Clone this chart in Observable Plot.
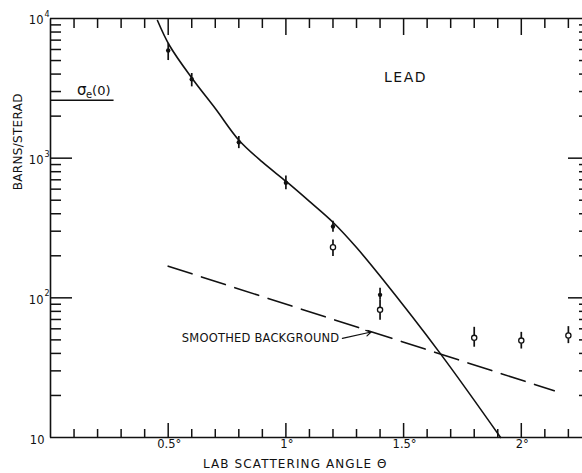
<!DOCTYPE html>
<html><head><meta charset="utf-8">
<script src="https://cdn.jsdelivr.net/npm/d3@7"></script>
<script src="https://cdn.jsdelivr.net/npm/@observablehq/plot@0.6"></script>
<style>
body{margin:0;background:#fff;}
</style></head><body><div id="chart"></div>
<script>
// Measured points (filled = main data, open = second set)
const filledAngle = [0.5, 0.6, 0.8, 1.0, 1.2, 1.4];
const filledValue = [5900, 3670, 1300, 667, 324, 105];
const filledLow   = [5000, 3240, 1170, 595, 295, 96];
const filledHigh  = [6600, 4040, 1430, 745, 354, 117];
const openAngle = [1.2, 1.4, 1.8, 2.0, 2.2];
const openValue = [230, 82, 51.7, 49.4, 53.7];
const openLow   = [198, 69, 44.3, 43, 47];
const openHigh  = [259, 96, 61.5, 56.6, 62.2];
// Solid theoretical curve
const fitAngle = [0.4545, 0.5055, 0.602, 0.701, 0.8016, 0.9006, 1.0013, 1.100, 1.201, 1.300, 1.402, 1.657, 1.912];
const fitValue = [9676, 6409, 3719, 2257, 1338, 936, 681, 490, 346, 229, 142, 39.7, 10];
// Smoothed background (dashed)
const bgAngle = [0.5, 2.14];
const bgValue = [168.6, 21.6];
// Sigma_e(0) level
const sigmaValue = [2600];
const sigmaAngleEnd = [0.27];
// Annotation arrow (angle, value)
const arrowFrom = [1.24, 51.2];
const arrowTo = [1.362, 56.9];
// Ticks
const xMajorTicks = [0.5, 1, 1.5, 2];
const xTickLabels = ["0.5°", "1°", "1.5°", "2°"];
const xMinorTicks = [0.1,0.2,0.3,0.4,0.6,0.7,0.8,0.9,1.1,1.2,1.3,1.4,1.6,1.7,1.8,1.9,2.1,2.2];
const yMajorTicks = [10, 100, 1000, 10000];
const yTickExponents = ["", "2", "3", "4"];
const yMinorTicks = [20,30,40,50,60,70,80,90,200,300,400,500,600,700,800,900,2000,3000,4000,5000,6000,7000,8000,9000];

const W = 582, H = 473, mL = 50, mR = 0, mT = 18, mB = 36;
const iW = W - mL - mR, iH = H - mT - mB;
const xMax = 2.26, yMin = 10, yMax = 10000;
const decadePx = iH / Math.log10(yMax / yMin);
const ink = "#111";
const upFrom = (v, px) => v * Math.pow(10, px / decadePx);
const downFrom = (v, px) => v / Math.pow(10, px / decadePx);
const xPx = px => px * xMax / iW;

const filled = filledAngle.map((a, i) => ({a, v: filledValue[i], lo: filledLow[i], hi: filledHigh[i]}));
const open = openAngle.map((a, i) => ({a, v: openValue[i], lo: openLow[i], hi: openHigh[i]}));
const fit = fitAngle.map((a, i) => ({a, v: fitValue[i]}));
const bg = bgAngle.map((a, i) => ({a, v: bgValue[i]}));
const xLab = xMajorTicks.map((t, i) => ({t, s: xTickLabels[i]}));
const yLabTop = yMajorTicks.slice(1).map((t, i) => ({t, e: yTickExponents[i + 1]}));
const yLabBottom = [{t: yMajorTicks[0]}];
const yInner = [100, 1000];

const vTicks = [
  ...xMinorTicks.map(t => ({x: t, a: yMin, b: upFrom(yMin, 8)})),
  ...xMajorTicks.map(t => ({x: t, a: yMin, b: upFrom(yMin, 14)})),
  ...xMinorTicks.map(t => ({x: t, a: downFrom(yMax, 10), b: yMax})),
  ...xMajorTicks.map(t => ({x: t, a: downFrom(yMax, 17), b: yMax}))
];
const hTicks = [
  ...yMinorTicks.map(t => ({y: t, a: 0, b: xPx(11)})),
  ...yInner.map(t => ({y: t, a: 0, b: xPx(22)})),
  ...yMinorTicks.map(t => ({y: t, a: xMax - xPx(3), b: xMax})),
  ...yInner.map(t => ({y: t, a: xMax - xPx(14), b: xMax}))
];
const frameH = [{y: yMin, a: 0, b: xMax}, {y: yMax, a: 0, b: xMax}];
const frameV = [{x1: 0, y1: yMin, x2: 0, y2: yMax}];
const sigmaSeg = [{y: sigmaValue[0], a: 0, b: sigmaAngleEnd[0]}];
const arrowSeg = [{x1: arrowFrom[0], y1: arrowFrom[1], x2: arrowTo[0], y2: arrowTo[1]}];

const chart = Plot.plot({
  width: W, height: H,
  marginLeft: mL, marginRight: mR, marginTop: mT, marginBottom: mB,
  style: {fontFamily: "DejaVu Sans, sans-serif", background: "#fff"},
  x: {domain: [0, xMax], axis: null},
  y: {type: "log", domain: [yMin, yMax], axis: null},
  marks: [
    // frame (top/bottom) and ticks first
    Plot.ruleY(frameH, {y: "y", x1: "a", x2: "b", stroke: ink, strokeWidth: 1.6}),
    Plot.ruleX(vTicks, {x: "x", y1: "a", y2: "b", stroke: ink, strokeWidth: 1.5}),
    Plot.ruleY(hTicks, {y: "y", x1: "a", x2: "b", stroke: ink, strokeWidth: 1.5}),
    // tick labels
    Plot.text(xLab, {x: "t", text: "s", frameAnchor: "bottom", dy: 10, dx: 1, fontSize: 11.5, fill: ink}),
    Plot.text(yLabTop, {y: "t", text: () => "10", frameAnchor: "left", dx: -7, dy: 2, textAnchor: "end", fontSize: 11.5, fill: ink}),
    Plot.text(yLabTop, {y: "t", text: "e", frameAnchor: "left", dx: -6, dy: -4, textAnchor: "start", fontSize: 8, fill: ink}),
    Plot.text(yLabBottom, {y: "t", text: () => "10", frameAnchor: "left", dx: -6, dy: 3, textAnchor: "end", fontSize: 11.5, fill: ink}),
    // axis titles
    Plot.text(["LAB SCATTERING ANGLE Θ"], {x: 1.04, frameAnchor: "bottom", dy: 30, text: d => d, fontSize: 12, fill: ink}),
    Plot.text(["BARNS/STERAD"], {y: 590, frameAnchor: "left", dx: -32, rotate: -90, text: d => d, fontSize: 12, fill: ink}),
    // sigma_e(0)
    Plot.ruleY(sigmaSeg, {y: "y", x1: "a", x2: "b", stroke: ink, strokeWidth: 1.6}),
    Plot.text(["σ"], {x: 0.113, y: sigmaValue[0], dy: -10, textAnchor: "start", text: d => d, fontSize: 15, fill: ink}),
    Plot.text(["e"], {x: 0.113, y: sigmaValue[0], dx: 9, dy: -5, textAnchor: "start", text: d => d, fontSize: 10, fill: ink}),
    Plot.text(["(0)"], {x: 0.113, y: sigmaValue[0], dx: 15, dy: -9, textAnchor: "start", text: d => d, fontSize: 13, fill: ink}),
    // LEAD
    Plot.text(["LEAD"], {x: 1.508, y: 3785, text: d => d, fontSize: 14, fill: ink}),
    // curves
    Plot.line(fit, {x: "a", y: "v", curve: "catmull-rom", stroke: ink, strokeWidth: 1.6}),
    Plot.line(bg, {x: "a", y: "v", stroke: ink, strokeWidth: 1.6, strokeDasharray: "25,10"}),
    // annotation
    Plot.text(["SMOOTHED BACKGROUND"], {x: arrowFrom[0], y: arrowFrom[1], dx: -3, textAnchor: "end", text: d => d, fontSize: 11.5, fill: ink}),
    Plot.arrow(arrowSeg, {x1: "x1", y1: "y1", x2: "x2", y2: "y2", stroke: ink, strokeWidth: 1.2, headLength: 7}),
    // error bars and points
    Plot.ruleX(filled, {x: "a", y1: "lo", y2: "hi", stroke: ink, strokeWidth: 1.7}),
    Plot.ruleX(open, {x: "a", y1: "lo", y2: "hi", stroke: ink, strokeWidth: 1.7}),
    Plot.dot(filled, {x: "a", y: "v", r: 2.2, fill: ink, stroke: "none"}),
    Plot.dot(open, {x: "a", y: "v", r: 2.6, fill: "#fff", stroke: ink, strokeWidth: 1.3}),
    // left frame line
    Plot.link(frameV, {x1: "x1", y1: "y1", x2: "x2", y2: "y2", stroke: ink, strokeWidth: 1.6})
  ]
});
document.getElementById("chart").appendChild(chart);
d3.select(chart).selectAll("text").each(function() {
  const t = this.textContent;
  if (t === "LAB SCATTERING ANGLE Θ") this.setAttribute("letter-spacing", "1.1");
  else if (t === "LEAD") this.setAttribute("letter-spacing", "1.5");
  else if (t === "BARNS/STERAD") this.setAttribute("letter-spacing", "0.3");
  else if (t === "SMOOTHED BACKGROUND") this.setAttribute("letter-spacing", "0.2");
});
</script></body></html>
